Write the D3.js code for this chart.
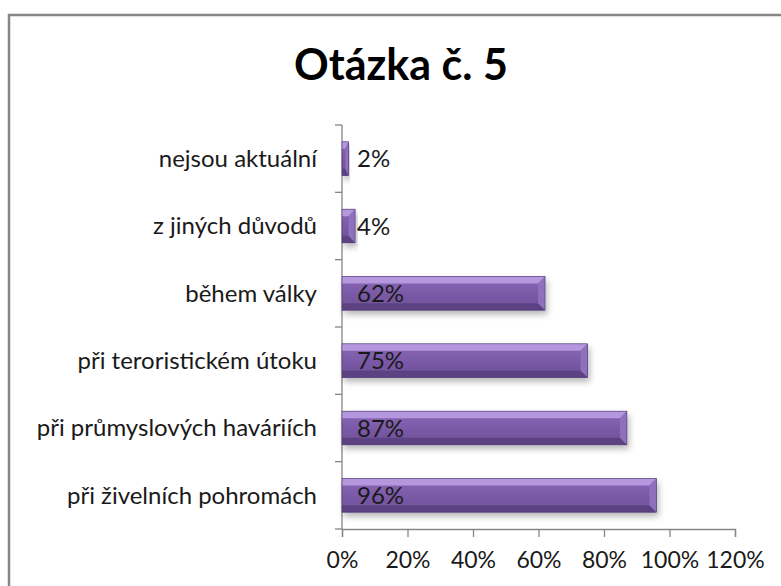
<!DOCTYPE html>
<html>
<head>
<meta charset="utf-8">
<script src="https://cdn.jsdelivr.net/npm/d3@7"></script>
<style>
  body { margin: 0; background: #fff; }
  svg { display: block; }
  text { font-family: Lato, "Open Sans", sans-serif; fill: #1a1a1a; }
</style>
</head>
<body>
<div id="chart"></div>
<script>
// data (bottom to top in the original)
var categories = ["nejsou aktuální", "z jiných důvodů", "během války",
                  "při teroristickém útoku", "při průmyslových haváriích", "při živelních pohromách"];
var values = [2, 4, 62, 75, 87, 96];
var xTicks = [0, 20, 40, 60, 80, 100, 120];
var title = "Otázka č. 5";

var W = 781, H = 586;
var margin = {top: 125, left: 342, right: 46, bottom: 57};

var svg = d3.select("#chart").append("svg")
    .attr("width", W)
    .attr("height", H);

var defs = svg.append("defs");

var grad = defs.append("linearGradient")
    .attr("id", "barFill")
    .attr("x1", 0).attr("y1", 0).attr("x2", 0).attr("y2", 1);
grad.append("stop").attr("offset", "0%").attr("stop-color", "#8a68b8");
grad.append("stop").attr("offset", "50%").attr("stop-color", "#7b5aa7");
grad.append("stop").attr("offset", "100%").attr("stop-color", "#6e4f98");

var shadow = defs.append("filter").attr("id", "shadow")
    .attr("x", "-10%").attr("y", "-30%").attr("width", "130%").attr("height", "180%");
shadow.append("feGaussianBlur").attr("in", "SourceAlpha").attr("stdDeviation", 3);
shadow.append("feOffset").attr("dx", 2).attr("dy", 4).attr("result", "off");
shadow.append("feComponentTransfer").append("feFuncA").attr("type", "linear").attr("slope", 0.28);
var merge = shadow.append("feMerge");
merge.append("feMergeNode");
merge.append("feMergeNode").attr("in", "SourceGraphic");

// outer frame (only top and left edges fall inside the picture)
svg.append("path")
    .attr("d", "M9,586 V15 H781")
    .attr("fill", "none")
    .attr("stroke", "#868686")
    .attr("stroke-width", 2.5);

var x = d3.scaleLinear()
    .domain([0, 120])
    .range([margin.left, W - margin.right]);

var y = d3.scaleBand()
    .domain(categories)
    .range([margin.top, H - margin.bottom])
    .paddingInner(0.5)
    .paddingOuter(0.25);

svg.append("text")
    .attr("x", 401)
    .attr("y", 80)
    .attr("text-anchor", "middle")
    .style("font-size", "43px")
    .style("font-weight", "bold")
    .style("fill", "#000")
    .text(title);

// axes
var xAxis = svg.append("g")
    .attr("transform", "translate(0," + (H - margin.bottom) + ")")
    .call(d3.axisBottom(x).tickValues(xTicks).tickSize(8).tickPadding(15)
        .tickFormat(function(d){ return d + "%"; }));
xAxis.select(".domain").attr("stroke", "#868686").attr("stroke-width", 1.3);
xAxis.selectAll(".tick line").attr("stroke", "#868686").attr("stroke-width", 1.3);
xAxis.selectAll(".tick text")
    .style("font-size", "23px")
    .style("font-family", "Lato, sans-serif")
    .attr("fill", "#1a1a1a");

var bounds = d3.range(categories.length + 1).map(function(i){
    return margin.top + i * y.step();
});
var yAxis = svg.append("g");
yAxis.append("line")
    .attr("x1", x(0)).attr("x2", x(0))
    .attr("y1", margin.top).attr("y2", H - margin.bottom)
    .attr("stroke", "#868686").attr("stroke-width", 1.3);
yAxis.selectAll("line.tk").data(bounds).enter().append("line")
    .attr("class", "tk")
    .attr("x1", x(0) - 7).attr("x2", x(0))
    .attr("y1", function(d){ return d; }).attr("y2", function(d){ return d; })
    .attr("stroke", "#868686").attr("stroke-width", 1.3);

svg.selectAll("text.cat").data(categories).enter().append("text")
    .attr("class", "cat")
    .attr("x", x(0) - 25)
    .attr("y", function(d){ return y(d) + y.bandwidth() / 2; })
    .attr("dy", "0.35em")
    .attr("text-anchor", "end")
    .style("font-size", "24px")
    .text(function(d){ return d; });

// bars with a bevel
var bars = svg.selectAll("g.bar").data(values).enter().append("g")
    .attr("class", "bar")
    .attr("filter", "url(#shadow)");

var bv = 7;
bars.append("rect")
    .attr("x", x(0))
    .attr("y", function(d, i){ return y(categories[i]); })
    .attr("width", function(d){ return x(d) - x(0); })
    .attr("height", y.bandwidth())
    .attr("fill", "url(#barFill)");

function bevel(d, i, side) {
    var x0 = x(0), x1 = x(d), y0 = y(categories[i]), y1 = y0 + y.bandwidth();
    var b = Math.min(bv, (x1 - x0) / 2);
    if (side === "top") return [[x0, y0], [x1, y0], [x1 - b, y0 + bv], [x0, y0 + bv]];
    if (side === "bottom") return [[x0, y1 - bv], [x1 - b, y1 - bv], [x1, y1], [x0, y1]];
    return [[x1, y0], [x1, y1], [x1 - b, y1 - bv], [x1 - b, y0 + bv]];
}
var line = d3.line();
bars.append("path")
    .attr("d", function(d, i){ return line(bevel(d, i, "top")) + "Z"; })
    .attr("fill", "#b497dd");
bars.append("path")
    .attr("d", function(d, i){ return line(bevel(d, i, "bottom")) + "Z"; })
    .attr("fill", "#5c4382");
bars.append("path")
    .attr("d", function(d, i){ return line(bevel(d, i, "right")) + "Z"; })
    .attr("fill", "#8f6fbd");
bars.append("rect")
    .attr("x", x(0))
    .attr("y", function(d, i){ return y(categories[i]); })
    .attr("width", function(d){ return x(d) - x(0); })
    .attr("height", y.bandwidth())
    .attr("fill", "none")
    .attr("stroke", "#4d3870")
    .attr("stroke-width", 0.6);

svg.selectAll("text.val").data(values).enter().append("text")
    .attr("class", "val")
    .attr("x", x(0) + 15)
    .attr("y", function(d, i){ return y(categories[i]) + y.bandwidth() / 2; })
    .attr("dy", "0.36em")
    .style("font-size", "24px")
    .text(function(d){ return d + "%"; });
</script>
</body>
</html>
